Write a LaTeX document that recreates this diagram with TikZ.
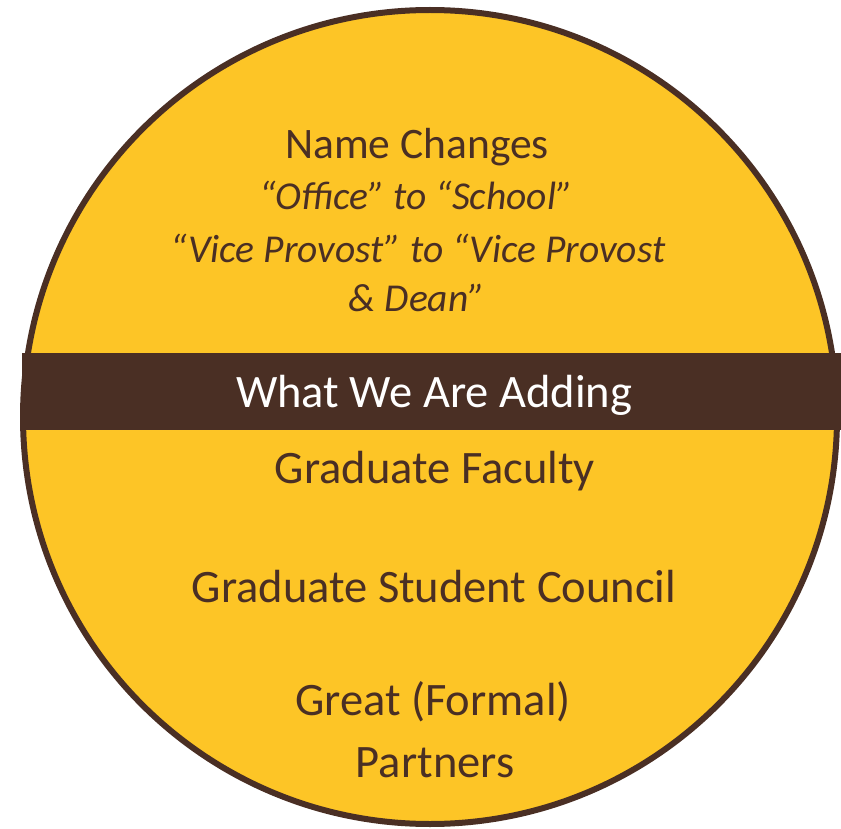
\documentclass[tikz,border=0pt]{standalone}
\usepackage{fontspec}
\setmainfont{Carlito}
\definecolor{gold}{HTML}{FDC526}
\definecolor{brown}{HTML}{4A2F24}
\begin{document}
\begin{tikzpicture}[x=1pt,y=-1pt,
  txt/.style={anchor=base,inner sep=0pt,text=brown,font=\fontsize{46.5}{55}\selectfont},
  htxt/.style={anchor=base,inner sep=0pt,text=brown,font=\fontsize{43.5}{52}\selectfont},
  itxt/.style={anchor=base,inner sep=0pt,text=brown,font=\fontsize{39.5}{47}\selectfont\itshape},
  wtxt/.style={anchor=base,inner sep=0pt,text=white,font=\fontsize{46.5}{55}\selectfont}]
\useasboundingbox (0,0) rectangle (841,829);
\node[circle,minimum size=814pt,inner sep=0pt,fill=gold,draw=brown,line width=6pt] (circ) at (430,417) {};
\fill[brown] (22,353) rectangle (850,430);
\node[htxt] (t1) at (417,159) {Name Changes};
\node[itxt] (t2) at (416,210) {“Office” to “School”};
\node[itxt] (t3) at (418,262) {“Vice Provost” to “Vice Provost};
\node[itxt] (t4) at (417,312) {\& Dean”};
\node[wtxt] (band) at (434,407) {What We Are Adding};
\node[txt] (g1) at (435,483) {Graduate Faculty};
\node[txt] (g2) at (434,602) {Graduate Student Council};
\node[txt] (g3) at (433,715) {Great (Formal)};
\node[txt] (g4) at (435,777) {Partners};
\end{tikzpicture}
\end{document}
